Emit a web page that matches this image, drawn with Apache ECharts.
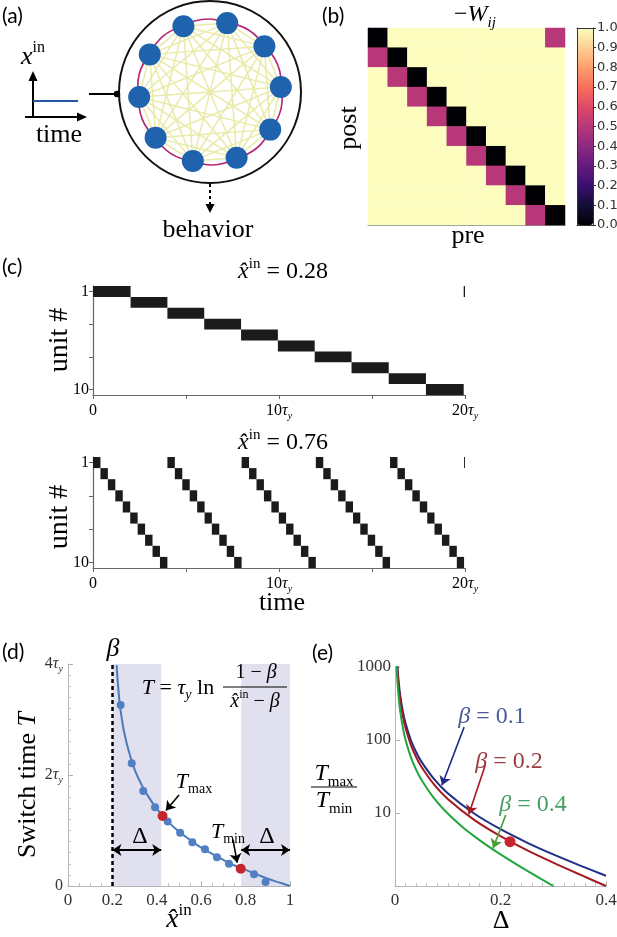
<!DOCTYPE html>
<html>
<head>
<meta charset="utf-8">
<script src="https://cdn.jsdelivr.net/npm/echarts@6/dist/echarts.min.js"></script>
<style>
html, body { margin: 0; padding: 0; background: #fff; }
#main { width: 617px; height: 937px; }
</style>
</head>
<body>
<div id="main"></div>
<script>
var SERIF = '"Liberation Serif", "DejaVu Serif", serif';
var SANS = 'Lato, "Open Sans", sans-serif';

// (a) ring of 10 units, slot on the ring
var ringSlots = [0, 1, 2, 3, 4, 5, 6, 7, 8, 9];

// (b) -W_ij, rows = post, columns = pre
var wMatrix = [
  [0, 1, 1, 1, 1, 1, 1, 1, 1, 0.5],
  [0.5, 0, 1, 1, 1, 1, 1, 1, 1, 1],
  [1, 0.5, 0, 1, 1, 1, 1, 1, 1, 1],
  [1, 1, 0.5, 0, 1, 1, 1, 1, 1, 1],
  [1, 1, 1, 0.5, 0, 1, 1, 1, 1, 1],
  [1, 1, 1, 1, 0.5, 0, 1, 1, 1, 1],
  [1, 1, 1, 1, 1, 0.5, 0, 1, 1, 1],
  [1, 1, 1, 1, 1, 1, 0.5, 0, 1, 1],
  [1, 1, 1, 1, 1, 1, 1, 0.5, 0, 1],
  [1, 1, 1, 1, 1, 1, 1, 1, 0.5, 0]
];
var magma = ['#000004', '#140e36', '#3b0f70', '#641a80', '#8c2981', '#b73779',
             '#de4968', '#f7705c', '#fe9f6d', '#fecf92', '#fcfdbf'];

// (c) active unit vs time, x^in = 0.28
var topOnsets = [0, 2.02, 4.0, 5.98, 7.96, 9.94, 11.92, 13.9, 15.9, 17.9, 19.93];
var topUnits = [1, 2, 3, 4, 5, 6, 7, 8, 9, 10, 1];
// (c) x^in = 0.76
var botOnsets = [
  0, 0.4, 0.8, 1.2, 1.6, 2.0, 2.4, 2.8, 3.2, 3.6,
  4.0, 4.4, 4.8, 5.2, 5.6, 6.0, 6.39, 6.79, 7.19, 7.59,
  7.99, 8.39, 8.79, 9.19, 9.59, 9.99, 10.38, 10.78, 11.18, 11.58,
  11.98, 12.38, 12.78, 13.18, 13.58, 13.98, 14.37, 14.77, 15.17, 15.57,
  15.97, 16.37, 16.77, 17.17, 17.57, 17.97, 18.36, 18.76, 19.16, 19.56,
  19.95
];
var botUnits = [
  1, 2, 3, 4, 5, 6, 7, 8, 9, 10,
  1, 2, 3, 4, 5, 6, 7, 8, 9, 10,
  1, 2, 3, 4, 5, 6, 7, 8, 9, 10,
  1, 2, 3, 4, 5, 6, 7, 8, 9, 10,
  1, 2, 3, 4, 5, 6, 7, 8, 9, 10,
  1
];

// (d) switch time vs input
var curveX = [0.219, 0.224, 0.233, 0.243, 0.253, 0.273, 0.302, 0.332, 0.362, 0.4, 0.45,
              0.5, 0.55, 0.6, 0.65, 0.7, 0.75, 0.8, 0.85, 0.9, 0.95, 1.0];
var curveT = [3.98, 3.69, 3.28, 3.0, 2.77, 2.44, 2.08, 1.82, 1.61, 1.39, 1.16,
              0.98, 0.83, 0.69, 0.58, 0.47, 0.37, 0.29, 0.21, 0.13, 0.065, 0];
var dotX = [0.237, 0.287, 0.339, 0.392, 0.449, 0.505, 0.560, 0.617, 0.671, 0.725, 0.838, 0.890];
var dotT = [3.26, 2.21, 1.71, 1.42, 1.16, 0.96, 0.79, 0.66, 0.52, 0.40, 0.21, 0.07];
var extremeX = [0.426, 0.778];
var extremeT = [1.26, 0.31];
var betaD = 0.2;
var bandsD = [[0.2, 0.42], [0.78, 1.0]];

// (e) Tmax/Tmin vs Delta
var deltaA = [0.004, 0.005, 0.007, 0.01, 0.015, 0.02, 0.03, 0.04, 0.05, 0.075, 0.1, 0.15, 0.2, 0.25, 0.3, 0.35, 0.4];
var ratioB1 = [1216, 932, 622, 403, 244, 169, 100, 68.5, 50.6, 28.6, 18.7, 9.83, 5.99, 3.94, 2.71, 1.92, 1.38];
var ratioB2 = [1057, 809, 539, 348, 210, 146, 85.9, 58.4, 43.0, 24.1, 15.6, 8.06, 4.82, 3.10, 2.09, 1.44, 1.0];
var deltaG = [0.003, 0.004, 0.005, 0.007, 0.01, 0.015, 0.02, 0.03, 0.04, 0.05, 0.075, 0.1, 0.125, 0.15, 0.175, 0.2, 0.25, 0.3];
var ratioB4 = [1057, 749, 572, 379, 244, 146, 100, 58.4, 39.3, 28.6, 15.6, 9.83, 6.71, 4.82, 3.57, 2.71, 1.62, 1.0];
var markedE = [[0.218, 4.05]];

function zip(a, b) { return a.map(function (v, i) { return [v, b[i]]; }); }

function rich(s, c) {
  c = c || '#000';
  var lh = Math.round(s * 1.3), ss = Math.round(s * 0.62);
  return {
    r: { fontFamily: SERIF, fontSize: s, lineHeight: lh, fill: c, color: c },
    i: { fontFamily: SERIF, fontSize: s, lineHeight: lh, fontStyle: 'italic', fill: c, color: c },
    p: { fontFamily: SERIF, fontSize: ss, lineHeight: ss, verticalAlign: 'top', fill: c, color: c },
    b: { fontFamily: SERIF, fontSize: ss, lineHeight: ss, fontStyle: 'italic', verticalAlign: 'bottom', fill: c, color: c },
    br: { fontFamily: SERIF, fontSize: ss, lineHeight: ss, verticalAlign: 'bottom', fill: c, color: c }
  };
}

function txt(x, y, text, size, o) {
  o = o || {};
  var c = o.color || '#000';
  return {
    type: 'text', x: x, y: y, rotation: o.rot || 0, z: 100, silent: true,
    style: {
      text: text, fill: c, fontFamily: o.family || SERIF, fontSize: size,
      align: o.align || 'center', textAlign: o.align || 'center',
      verticalAlign: 'middle', textVerticalAlign: 'middle',
      rich: rich(size, c)
    }
  };
}
function label(x, y, t) {
  return {
    type: 'text', x: x, y: y, z: 100, silent: true,
    style: { text: t, fill: '#000', fontFamily: SANS, fontSize: 21, align: 'left', verticalAlign: 'middle' }
  };
}
function seg(x1, y1, x2, y2, w, color, dash) {
  return {
    type: 'line', z: 50, silent: true,
    shape: { x1: x1, y1: y1, x2: x2, y2: y2 },
    style: { stroke: color || '#000', lineWidth: w || 1, lineDash: dash || null }
  };
}
function head(pts) {
  return { type: 'polygon', z: 50, silent: true, shape: { points: pts }, style: { fill: '#000' } };
}

// network edges: every pair (yellow) plus the ring (magenta)
var webLinks = [];
ringSlots.forEach(function (a) {
  ringSlots.forEach(function (b) { if (a < b) webLinks.push({ source: a, target: b }); });
});
var ringLinks = ringSlots.map(function (a, i) {
  return {
    source: a, target: ringSlots[(i + 1) % ringSlots.length],
    lineStyle: { color: '#b5246e', width: 1.6, curveness: -0.25, opacity: 1 }
  };
});

var heatData = [];
wMatrix.forEach(function (row, r) {
  row.forEach(function (v, c) { heatData.push([c, r, v]); });
});

function rasterItem(params, api) {
  var p0 = api.coord([api.value(0), api.value(2) - 0.5]);
  var p1 = api.coord([api.value(1), api.value(2) + 0.5]);
  return {
    type: 'rect',
    shape: { x: p0[0], y: Math.min(p0[1], p1[1]), width: p1[0] - p0[0], height: Math.abs(p1[1] - p0[1]) },
    style: { fill: '#1b1b1b' }
  };
}
function rasterData(onsets, units) {
  return onsets.map(function (t, i) {
    var end = i + 1 < onsets.length ? onsets[i + 1] : 20;
    return [t, end, units[i]];
  });
}

function tauLabel(v) {
  if (v === 0) return '{r|0}';
  return '{r|' + v + '}{i|τ}{b|y}';
}

var gridBase = { outerBoundsMode: 'none', containLabel: false };
function grid(l, t, w, h) {
  return Object.assign({ left: l, top: t, width: w, height: h }, gridBase);
}

var rasterX = function (gi) {
  return {
    gridIndex: gi, type: 'value', min: 0, max: 20, interval: 5,
    axisLine: { onZero: false, lineStyle: { color: '#666', width: 1.2 } },
    axisTick: { length: 4, lineStyle: { color: '#666' } },
    splitLine: { show: false },
    axisLabel: {
      margin: 5,
      formatter: function (v) { return (v % 10 === 0) ? tauLabel(v) : ''; },
      rich: rich(16)
    }
  };
};
var rasterY = function (gi) {
  return {
    gridIndex: gi, type: 'value', min: 0.5, max: 10.5, inverse: true,
    axisLine: { show: true, onZero: false, lineStyle: { color: '#666', width: 1.2 } },
    axisTick: { show: true, length: 4, customValues: [1, 4, 7, 10], lineStyle: { color: '#666' } },
    splitLine: { show: false },
    axisLabel: { margin: 4, customValues: [1, 10], fontFamily: SERIF, fontSize: 16, color: '#000' }
  };
};

var graphics = [
  // (a)
  label(2, 16, '(a)'),
  txt(33, 57, '{i|x}{p|in}', 26),
  seg(33, 118, 33, 80, 2), head([[33, 71], [28.5, 81], [37.5, 81]]),
  seg(25, 117, 78, 117, 2), head([[87, 117], [77, 112.5], [77, 121.5]]),
  seg(33, 101, 78, 101, 2, '#2456a8'),
  txt(59, 135, '{r|time}', 26),
  seg(89, 94, 116, 94, 2),
  { type: 'circle', z: 50, silent: true, shape: { cx: 117, cy: 94, r: 3.2 }, style: { fill: '#000' } },
  { type: 'circle', z: 1, silent: true, shape: { cx: 210, cy: 92, r: 91 }, style: { fill: 'none', stroke: '#111', lineWidth: 2 } },
  seg(210, 184, 210, 205, 2, '#000', [3, 3]), head([[210, 213], [205.5, 204], [214.5, 204]]),
  txt(208, 230, '{r|behavior}', 26),
  // (b)
  label(322, 16, '(b)'),
  txt(475, 15, '{r|−}{i|W}{b|ij}', 24),
  txt(349, 128, '{r|post}', 26, { rot: Math.PI / 2 }),
  txt(468, 236, '{r|pre}', 26),
  // (c)
  label(2, 267, '(c)'),
  txt(283, 272, '{i|x̂}{p|in}{r| = 0.28}', 24),
  txt(60, 340, '{r|unit #}', 28, { rot: Math.PI / 2 }),
  txt(283, 443, '{i|x̂}{p|in}{r| = 0.76}', 24),
  txt(60, 517, '{r|unit #}', 28, { rot: Math.PI / 2 }),
  txt(282, 603, '{r|time}', 26),
  // (d)
  label(2, 652, '(d)'),
  txt(113, 649, '{i|β}', 26),
  txt(178, 688, '{i|T}{r| = }{i|τ}{b|y}{r| ln}', 22),
  txt(256, 673, '{r|1 − }{i|β}', 20),
  seg(223, 687, 287, 687, 1.2),
  txt(255, 702, '{i|x̂}{p|in}{r| − }{i|β}', 20),
  txt(194, 782, '{i|T}{br|max}', 22),
  txt(228, 832, '{i|T}{br|min}', 22),
  txt(140, 837, '{r|Δ}', 24),
  txt(267, 837, '{r|Δ}', 24),
  txt(28, 785, '{r|Switch time }{i|T}', 26, { rot: Math.PI / 2 }),
  txt(179, 920, '{i|x̂}{p|in}', 28),
  // (e)
  label(312, 653, '(e)'),
  txt(334, 774, '{i|T}{br|max}', 24),
  seg(311, 787, 357, 787, 1.2),
  txt(334, 801, '{i|T}{br|min}', 24),
  txt(501, 921, '{r|Δ}', 26),
  txt(492, 717, '{i|β}{r| = 0.1}', 24, { color: '#4a5a9c' }),
  txt(509, 762, '{i|β}{r| = 0.2}', 24, { color: '#9c3b3f' }),
  txt(533, 805, '{i|β}{r| = 0.4}', 24, { color: '#45a064' })
];

function arrowLine(pairs, color, both) {
  return {
    silent: true, animation: false,
    symbol: both ? ['arrow', 'arrow'] : ['none', 'arrow'],
    symbolSize: 9,
    label: { show: false },
    lineStyle: { color: color, width: both ? 2 : 1.6, type: 'solid' },
    data: pairs.map(function (p) { return [{ coord: p[0] }, { coord: p[1] }]; })
  };
}

var option = {
  animation: false,
  backgroundColor: '#fff',
  graphic: graphics,
  polar: { center: [210, 92], radius: 71 },
  radiusAxis: { min: 0, max: 1, show: false },
  angleAxis: { type: 'value', min: 0, max: 10, startAngle: 4, clockwise: false, show: false },
  grid: [
    grid(368, 28, 197, 197),
    grid(577, 28, 16, 197),
    grid(93, 286, 372, 109),
    grid(93, 457, 372, 111),
    grid(68, 664, 222, 222),
    grid(395, 667, 211, 219)
  ],
  xAxis: [
    { gridIndex: 0, type: 'category', data: ringSlots, axisLine: { lineStyle: { color: '#888' } }, axisTick: { show: false }, axisLabel: { show: false } },
    { gridIndex: 1, type: 'value', min: 0, max: 1, z: 10, axisLine: { onZero: false, lineStyle: { color: '#333' } }, axisTick: { show: false }, axisLabel: { show: false }, splitLine: { show: false } },
    { gridIndex: 1, type: 'value', min: 0, max: 1, z: 10, position: 'top', axisLine: { onZero: false, lineStyle: { color: '#333' } }, axisTick: { show: false }, axisLabel: { show: false }, splitLine: { show: false } },
    rasterX(2),
    rasterX(3),
    {
      gridIndex: 4, type: 'value', min: 0, max: 1, interval: 0.2,
      axisLine: { onZero: false, lineStyle: { color: '#b8b8b8' } },
      axisTick: { inside: true, length: 5, lineStyle: { color: '#b0b0b0' } },
      minorTick: { show: true, splitNumber: 4, length: 3, lineStyle: { color: '#c4c4c4' } },
      splitLine: { show: false },
      axisLabel: {
        margin: 6, color: '#333', fontFamily: SERIF, fontSize: 17,
        formatter: function (v) { return (v === 0 || v === 1) ? String(v) : v.toFixed(1); }
      }
    },
    {
      gridIndex: 5, type: 'value', min: 0, max: 0.4, interval: 0.2,
      axisLine: { onZero: false, lineStyle: { color: '#b8b8b8' } },
      axisTick: { inside: true, length: 5, lineStyle: { color: '#b0b0b0' } },
      minorTick: { show: true, splitNumber: 10, length: 3, lineStyle: { color: '#c4c4c4' } },
      splitLine: { show: false },
      axisLabel: {
        margin: 6, color: '#333', fontFamily: SERIF, fontSize: 17,
        formatter: function (v) { return v === 0 ? '0' : v.toFixed(1); }
      }
    }
  ],
  yAxis: [
    { gridIndex: 0, type: 'category', data: ringSlots, inverse: true, axisLine: { lineStyle: { color: '#888' } }, axisTick: { show: false }, axisLabel: { show: false } },
    {
      gridIndex: 1, type: 'value', min: 0, max: 1, interval: 0.1, position: 'right', z: 10,
      axisLine: { show: true, onZero: false, lineStyle: { color: '#333' } },
      axisTick: { show: true, length: 3, lineStyle: { color: '#333' } },
      splitLine: { show: false },
      axisLabel: { margin: 4, color: '#333', fontFamily: '"DejaVu Sans", sans-serif', fontSize: 13, formatter: function (v) { return v.toFixed(1); } }
    },
    { gridIndex: 1, type: 'value', min: 0, max: 1, position: 'left', z: 10, axisLine: { show: true, onZero: false, lineStyle: { color: '#333' } }, axisTick: { show: false }, axisLabel: { show: false }, splitLine: { show: false } },
    rasterY(2),
    rasterY(3),
    {
      gridIndex: 4, type: 'value', min: 0, max: 4, interval: 2,
      axisLine: { show: true, onZero: false, lineStyle: { color: '#b8b8b8' } },
      axisTick: { show: true, inside: true, length: 5, lineStyle: { color: '#b0b0b0' } },
      minorTick: { show: true, splitNumber: 10, length: 3, lineStyle: { color: '#c4c4c4' } },
      splitLine: { show: false },
      axisLabel: { margin: 5, formatter: tauLabel, rich: rich(16, '#333') }
    },
    {
      gridIndex: 5, type: 'log', logBase: 10, min: 1, max: 1000,
      axisLine: { show: true, onZero: false, lineStyle: { color: '#b8b8b8' } },
      axisTick: { show: true, inside: true, length: 5, lineStyle: { color: '#b0b0b0' } },
      splitLine: { show: false },
      axisLabel: {
        margin: 4, color: '#333', fontFamily: SERIF, fontSize: 17,
        formatter: function (v) { return v === 1 ? '' : String(v); }
      }
    }
  ],
  visualMap: {
    type: 'continuous', min: 0, max: 1, seriesIndex: 1,
    orient: 'vertical', left: 577, top: 28, itemWidth: 16, itemHeight: 197,
    padding: 0, calculable: false, inRange: { color: magma }
  },
  series: [
    {
      type: 'graph', coordinateSystem: 'polar', polarIndex: 0, silent: true,
      data: ringSlots.map(function (k) { return { name: 'u' + k, value: [1, k] }; }),
      links: webLinks.concat(ringLinks),
      symbolSize: 22,
      itemStyle: { color: '#1f62ad' },
      lineStyle: { color: '#e9eaa8', width: 1.5, opacity: 1 },
      label: { show: false }
    },
    {
      type: 'heatmap', xAxisIndex: 0, yAxisIndex: 0, silent: true,
      data: heatData
    },
    {
      type: 'custom', xAxisIndex: 3, yAxisIndex: 3, silent: true,
      renderItem: rasterItem, encode: { x: [0, 1], y: 2 },
      data: rasterData(topOnsets, topUnits)
    },
    {
      type: 'custom', xAxisIndex: 4, yAxisIndex: 4, silent: true,
      renderItem: rasterItem, encode: { x: [0, 1], y: 2 },
      data: rasterData(botOnsets, botUnits)
    },
    {
      type: 'line', xAxisIndex: 5, yAxisIndex: 5, silent: true,
      data: zip(curveX, curveT), smooth: 0.4, showSymbol: false, symbol: 'none',
      lineStyle: { color: '#4b7bbd', width: 2 }, z: 3,
      markArea: {
        silent: true, itemStyle: { color: '#e1e0ef' },
        data: bandsD.map(function (b) { return [{ xAxis: b[0] }, { xAxis: b[1] }]; })
      },
      markLine: {
        silent: true, symbol: 'none', label: { show: false },
        lineStyle: { color: '#000', width: 2.5, type: [4, 3] },
        data: [{ xAxis: betaD }]
      }
    },
    {
      type: 'scatter', xAxisIndex: 5, yAxisIndex: 5, silent: true,
      data: zip(dotX, dotT), symbolSize: 8, itemStyle: { color: '#5080c2', opacity: 1 }, z: 4,
      markLine: arrowLine([[[0.2, 0.65], [0.42, 0.65]], [[0.78, 0.65], [1.0, 0.65]]], '#000', true)
    },
    {
      type: 'scatter', xAxisIndex: 5, yAxisIndex: 5, silent: true,
      data: zip(extremeX, extremeT), symbolSize: 10, itemStyle: { color: '#c4262c', opacity: 1 }, z: 5,
      markLine: arrowLine([[[0.5, 1.64], [0.441, 1.36]], [[0.743, 0.84], [0.762, 0.42]]], '#000', false)
    },
    {
      type: 'line', xAxisIndex: 6, yAxisIndex: 6, silent: true,
      data: zip(deltaA, ratioB1), smooth: 0.3, symbol: 'none',
      lineStyle: { color: '#1f2d86', width: 2 },
      markLine: arrowLine([[[0.131, 150], [0.089, 24]]], '#1f2d86', false)
    },
    {
      type: 'line', xAxisIndex: 6, yAxisIndex: 6, silent: true,
      data: zip(deltaA, ratioB2), smooth: 0.3, symbol: 'none',
      lineStyle: { color: '#a3191f', width: 2 },
      markLine: arrowLine([[[0.171, 45], [0.140, 9.6]]], '#a3191f', false)
    },
    {
      type: 'line', xAxisIndex: 6, yAxisIndex: 6, silent: true,
      data: zip(deltaG, ratioB4), smooth: 0.3, symbol: 'none',
      lineStyle: { color: '#1fa63f', width: 2 },
      markLine: arrowLine([[[0.210, 9.4], [0.186, 3.3]]], '#4c9a3a', false)
    },
    {
      type: 'scatter', xAxisIndex: 6, yAxisIndex: 6, silent: true,
      data: markedE, symbolSize: 11, itemStyle: { color: '#c4262c', opacity: 1 }, z: 5
    }
  ]
};

var chart = echarts.init(document.getElementById('main'), null, { renderer: 'canvas' });
chart.setOption(option);
</script>
</body>
</html>
